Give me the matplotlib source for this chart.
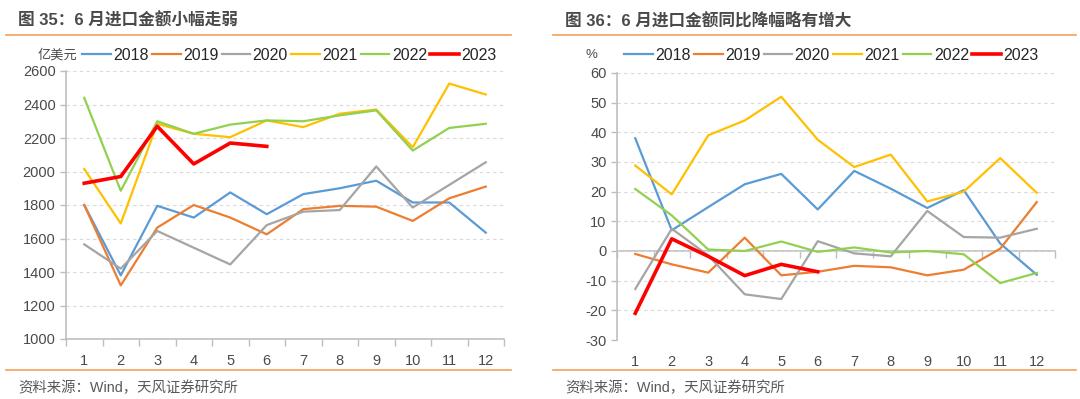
import numpy as np
import matplotlib.pyplot as plt
from matplotlib.lines import Line2D

plt.rcParams['font.family'] = ['Liberation Sans', 'Noto Sans CJK SC', 'DejaVu Sans']
plt.rcParams['axes.unicode_minus'] = False

# 数据
months = list(range(1, 13))
years = ['2018', '2019', '2020', '2021', '2022', '2023']
colors = ['#5B9BD5', '#ED7D31', '#A5A5A5', '#FFC000', '#92D050', '#FF0000']

# 进口金额（亿美元）
amt_2018 = [1800, 1380, 1795, 1725, 1875, 1745, 1865, 1900, 1945, 1815, 1815, 1635]
amt_2019 = [1800, 1320, 1665, 1800, 1725, 1625, 1775, 1795, 1790, 1705, 1840, 1910]
amt_2020 = [1565, 1420, 1645, 1545, 1445, 1680, 1760, 1770, 2030, 1785, 1920, 2055]
amt_2021 = [2015, 1690, 2285, 2225, 2205, 2305, 2265, 2345, 2370, 2145, 2525, 2460]
amt_2022 = [2440, 1885, 2300, 2225, 2280, 2305, 2300, 2335, 2365, 2125, 2260, 2285]
amt_2023 = [1930, 1970, 2270, 2045, 2170, 2150]

# 进口金额同比（%）
yoy_2018 = [38.0, 7.0, 14.8, 22.5, 26.0, 14.0, 27.0, 21.0, 14.5, 20.5, 2.5, -8.0]
yoy_2019 = [-1.0, -4.5, -7.3, 4.5, -8.2, -7.0, -5.0, -5.5, -8.2, -6.3, 0.8, 16.5]
yoy_2020 = [-12.8, 7.5, -1.5, -14.6, -16.2, 3.3, -0.8, -1.8, 13.5, 4.7, 4.5, 7.5]
yoy_2021 = [28.8, 19.1, 39.0, 44.0, 52.0, 37.5, 28.3, 32.5, 16.7, 20.0, 31.3, 19.6]
yoy_2022 = [20.9, 12.0, 0.5, 0.0, 3.2, -0.3, 1.2, -0.5, 0.0, -1.1, -10.8, -7.4]
yoy_2023 = [-21.0, 4.1, -1.8, -8.3, -4.5, -7.0]

amt_series = [amt_2018, amt_2019, amt_2020, amt_2021, amt_2022, amt_2023]
yoy_series = [yoy_2018, yoy_2019, yoy_2020, yoy_2021, yoy_2022, yoy_2023]

W, H = 1080, 399
fig = plt.figure(figsize=(W / 100, H / 100), dpi=100)

ORANGE = '#F4A15D'
TXT = '#4A4A4A'
AXC = '#BFBFBF'


def fx(px):
    return px / W


def fy(py):
    return 1 - py / H


def draw_panel(rect, series, ylim, yticks, unit, title, x_title, x_line0, x_line1, x_unit, x_leg):
    ax = fig.add_axes(rect)
    for i, (yr, vals) in enumerate(zip(years, series)):
        lw = 2.6 if yr == '2023' else 1.6
        ax.plot(months[:len(vals)], vals, color=colors[i], lw=lw, label=yr, zorder=3 + (yr == '2023'))
    ax.set_xlim(0.5, 12.5)
    ax.set_ylim(*ylim)
    ax.set_yticks(yticks)
    ax.set_xticks(months)
    ax.grid(axis='y', color='#D9D9D9', linestyle=(0, (3, 3)), lw=0.8)
    for s in ['top', 'right', 'bottom']:
        ax.spines[s].set_visible(False)
    ax.spines['left'].set_color(AXC)
    ax.spines['left'].set_linewidth(1.2)
    ax.tick_params(axis='y', colors=AXC, labelcolor=TXT, labelsize=10.5, length=4, width=1)
    ax.tick_params(axis='x', which='major', length=0, labelsize=10.5, labelcolor=TXT, pad=11)
    # 类别轴（在 0 处或底部）
    y0 = 0 if ylim[0] < 0 else ylim[0]
    frac = (y0 - ylim[0]) / (ylim[1] - ylim[0])
    sec = ax.secondary_xaxis(frac)
    sec.set_xticks(np.arange(0.5, 13, 1))
    sec.tick_params(length=5, width=1, color=AXC)
    sec.spines['bottom'].set_color(AXC)
    sec.spines['bottom'].set_linewidth(1.2)
    sec.spines['top'].set_visible(False)
    sec.xaxis.set_ticks_position('bottom')
    sec.set_xticklabels([])

    leg = ax.legend(ncol=6, loc='center left', bbox_to_anchor=(fx(x_leg), fy(55)),
                    bbox_transform=fig.transFigure, frameon=False,
                    fontsize=11.5, handlelength=1.8, handletextpad=0.15, columnspacing=0.2,
                    borderaxespad=0.0, borderpad=0.0)
    for t in leg.get_texts():
        t.set_color('#262626')
    fig.text(fx(x_unit), fy(55), unit, fontsize=9.5, color=TXT, ha='left', va='center')

    fig.text(fx(x_title), fy(20), title, fontsize=12, fontweight='bold', color=TXT,
             ha='left', va='center')
    fig.add_artist(Line2D([fx(x_line0), fx(x_line1)], [fy(35), fy(35)], color=ORANGE, lw=1.2))
    fig.add_artist(Line2D([fx(x_line0), fx(x_line1)], [fy(370), fy(370)], color=ORANGE, lw=1.2))
    fig.text(fx(x_title), fy(388), '资料来源：Wind，天风证券研究所', fontsize=10.4,
             color='#595959', ha='left', va='center')
    return ax


draw_panel([fx(66), fy(339), fx(504 - 66), (339 - 71) / H], amt_series,
           (1000, 2600), np.arange(1000, 2601, 200), '亿美元',
           '图 35：6 月进口金额小幅走弱', 18, 6, 511, 38, 82)

draw_panel([fx(617), fy(340), fx(1055 - 617), (340 - 73) / H], yoy_series,
           (-30, 60), np.arange(-30, 61, 10), '%',
           '图 36：6 月进口金额同比降幅略有增大', 565, 553, 1076, 586, 624)

fig.savefig('out.png', dpi=100)
